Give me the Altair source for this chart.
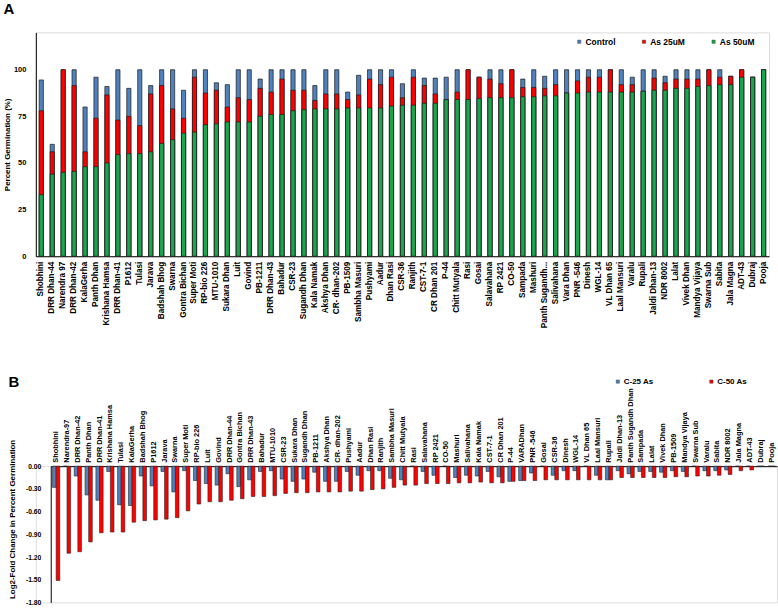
import altair as alt
import pandas as pd

FONT = "Liberation Sans"

# ---------------- Panel A data ----------------
cats_a = ["Shobhini", "DRR Dhan-44", "Narendra 97", "DRR Dhan-42", "KalaGerha", "Panth Dhan",
          "Krishana Hamsa", "DRR Dhan-41", "P1612", "Tulasi", "Jarava", "Badshah Bhog", "Swarna",
          "Gontra Bichan", "Super Moti", "RP-bio 226", "MTU-1010", "Sukara Dhan", "Luit", "Govind",
          "PB-1211", "DRR Dhan-43", "Bahadur", "CSR-23", "Sugandh Dhan", "Kala Namak", "Akshya Dhan",
          "CR- dhan-202", "PB-1509", "Sambha Masuri", "Pushyami", "Aadur", "Dhan Rasi", "CSR-36",
          "Ranjith", "CST-7-1", "CR Dhan 201", "P-44", "Chitt Mutyala", "Rasi", "Gosai", "Salavahana",
          "RP 2421", "CO-50", "Sampada", "Mashuri", "Panth Sugandh...", "Salivahana", "Vara Dhan",
          "PNR -546", "Dinesh", "WGL-14", "VL Dhan 65", "Laal Mansuri", "Varalu", "Rupali",
          "Jaldi Dhan-13", "NDR 8002", "Lalat", "Vivek Dhan", "Mandya Vijaya", "Swarna Sub", "Sabita",
          "Jala Magna", "ADT-43", "Dubraj", "Pooja"]
control = [94.5, 60, 100, 100, 80, 96, 91, 100, 90, 100, 91.5, 100, 100, 89, 100, 100, 93, 92, 100, 100,
           95, 100, 100, 100, 100, 91.5, 100, 100, 88, 97, 100, 100, 100, 92.5, 100, 95.5, 95.5, 96, 100,
           100, 96, 100, 100, 100, 95, 100, 96.5, 100, 100, 100, 100, 100, 100, 100, 96, 100, 100, 96.5,
           100, 100, 100, 100, 100, 96.5, 100, 96, 100]
as25 = [78, 56, 100, 91.5, 56, 74, 86.5, 73, 75, 70, 87, 91.5, 79, 74, 96, 87.5, 89, 80, 85, 84,
        90, 88, 95, 89, 89, 83.5, 87, 87, 84, 86.5, 95, 92, 96, 85, 96, 91.5, 87, 84, 88,
        100, 96, 95, 92.5, 100, 90.5, 90.5, 90, 92, 87.5, 94, 96, 96, 100, 92, 92, 88.5, 95.5, 93,
        95, 95, 95, 100, 96, 96.5, 100, 96, 100]
as50 = [33, 44, 45, 45.5, 48, 48, 50, 54.5, 55, 55, 56, 60.5, 62.5, 66, 66.5, 70.5, 71, 72, 72, 72,
        75, 76, 76, 78, 78.5, 79, 79, 79, 79.5, 79.5, 79.5, 79.5, 80.5, 81, 81, 82, 82, 84, 84,
        84, 84.5, 85, 85, 85, 85.5, 85.5, 86, 86, 87.5, 87.5, 88, 88, 88, 88, 88, 88.5, 89, 89,
        90, 90, 91, 91.5, 92, 92, 96, 96, 100]
series_a = ["Control", "As 25uM", "As 50uM"]
colors_a = ["#4F81BD", "#FF0000", "#1AA64E"]

# ---------------- Panel B data ----------------
cats_b = ["Shobhini", "Narendra-97", "DRR Dhan-42", "Panth Dhan", "DRR Dhan-41", "Krishana Hamsa",
          "Tulasi", "KalaGerha", "Badshah Bhog", "P1612", "Jarava", "Swarna", "Super Moti", "RP-bio 226",
          "Luit", "Govind", "DRR Dhan-44", "Gontra Bichan", "DRR Dhan-43", "Bahadur", "MTU-1010", "CSR-23",
          "Sukara Dhan", "Sugandh Dhan", "PB-1211", "Akshya Dhan", "CR- dhan-202", "Pushyami", "Aadur",
          "Dhan Rasi", "Ranjith", "Sambha Masuri", "Chitt Mutyala", "Rasi", "Salavahana", "RP 2421",
          "CO-50", "Mashuri", "Salivahana", "Kala Namak", "CST-7-1", "CR Dhan 201", "P-44", "VARADhan",
          "PNR -546", "Gosai", "CSR-36", "Dinesh", "WGL-14", "VL Dhan 65", "Laal Mansuri", "Rupali",
          "Jaldi Dhan-13", "Panth Sugandh Dhan", "Sampada", "Lalat", "Vivek Dhan", "PB-1509",
          "Mandya Vijaya", "Swarna Sub", "Varalu", "Sabita", "NDR 8002", "Jala Magna", "ADT-43",
          "Dubraj", "Pooja"]
c25 = [-0.28, 0.00, -0.13, -0.38, -0.45, -0.07, -0.51, -0.52, -0.13, -0.26, -0.07, -0.34, -0.06, -0.19,
       -0.23, -0.25, -0.10, -0.27, -0.18, -0.07, -0.06, -0.17, -0.20, -0.17, -0.08, -0.20, -0.20, -0.07,
       -0.12, -0.06, -0.06, -0.16, -0.18, 0.00, -0.07, -0.12, 0.00, -0.15, -0.12, -0.13, -0.07, -0.14,
       -0.20, -0.19, -0.09, 0.00, -0.12, -0.06, -0.06, 0.00, -0.12, -0.18, -0.06, -0.10, -0.07, -0.07,
       -0.08, -0.06, -0.07, 0.00, -0.06, -0.06, -0.05, 0.00, 0.00, 0.00, 0.00]
c50 = [-1.51, -1.15, -1.13, -1.00, -0.88, -0.87, -0.87, -0.74, -0.72, -0.71, -0.70, -0.68, -0.59, -0.50,
       -0.47, -0.47, -0.45, -0.43, -0.40, -0.40, -0.39, -0.36, -0.35, -0.35, -0.34, -0.34, -0.34, -0.33,
       -0.33, -0.31, -0.30, -0.28, -0.25, -0.25, -0.23, -0.23, -0.23, -0.22, -0.22, -0.21, -0.22, -0.22,
       -0.20, -0.19, -0.19, -0.18, -0.18, -0.18, -0.18, -0.18, -0.18, -0.18, -0.15, -0.15, -0.15, -0.15,
       -0.15, -0.14, -0.14, -0.13, -0.13, -0.12, -0.11, -0.06, -0.05, 0.00, 0.00]
series_b = ["C-25 As", "C-50 As"]
colors_b = ["#4F81BD", "#FF0000"]
ticks_b = [0.0, -0.3, -0.6, -0.9, -1.2, -1.5, -1.8]

rows_a = []
for i, c in enumerate(cats_a):
    for k, (s, v) in enumerate(zip(series_a, (control[i], as25[i], as50[i]))):
        rows_a.append({"cat": c, "series": s, "value": v, "ord": k})
df_a = pd.DataFrame(rows_a)

rows_b = []
for i, c in enumerate(cats_b):
    for s, v in zip(series_b, (c25[i], c50[i])):
        rows_b.append({"cat": c, "series": s, "value": v})
df_b = pd.DataFrame(rows_b)

W_A = 737
W_B = 745
B_SHIFT = 15

chart_a = alt.Chart(df_a).mark_bar(size=4.2, stroke="#1a1a1a", strokeWidth=0.7).encode(
    x=alt.X("cat:N", sort=cats_a, title=None,
            scale=alt.Scale(paddingInner=0, paddingOuter=0),
            axis=alt.Axis(labelAngle=-90, labelAlign="right", labelBaseline="middle",
                          labelFont=FONT, labelFontSize=8.2, labelFontWeight="bold", labelColor="black",
                          ticks=False, tickSize=0, domainColor="black", labelPadding=5, labelLimit=300)),
    y=alt.Y("value:Q", stack=None, scale=alt.Scale(domain=[0, 120], nice=False),
            axis=alt.Axis(values=[0, 25, 50, 75, 100], title="Percent Germination (%)", grid=False,
                          ticks=False, tickSize=0, domainColor="black", labelFont=FONT, labelFontSize=7.5,
                          labelFontWeight="bold", labelColor="black", labelPadding=10,
                          titleFont=FONT, titleFontSize=8, titleFontWeight="bold", titleColor="black",
                          titlePadding=2)),
    color=alt.Color("series:N", scale=alt.Scale(domain=series_a, range=colors_a),
                    legend=alt.Legend(title=None, orient="none", direction="horizontal", columns=3,
                                      legendX=542, legendY=5, padding=0, symbolType="square",
                                      symbolSize=11, symbolStrokeColor="#333", symbolStrokeWidth=0.4,
                                      labelFont=FONT, labelFontSize=8.5, labelFontWeight="bold",
                                      labelColor="black", labelOffset=2, columnPadding=24)),
    order=alt.Order("ord:Q"),
).properties(
    width=W_A, height=225,
    title=alt.TitleParams("A", anchor="start", frame="bounds", fontSize=15, font=FONT,
                          fontWeight="bold", color="black", offset=15),
)

chart_b = alt.Chart(df_b).mark_bar(stroke="#222", strokeWidth=0.6).encode(
    x=alt.X("cat:N", sort=cats_b, title=None,
            scale=alt.Scale(paddingInner=0, paddingOuter=0, range=[B_SHIFT, W_B]),
            axis=alt.Axis(orient="top", labelAngle=-90, labelAlign="left", labelBaseline="middle",
                          labelFont=FONT, labelFontSize=7.4, labelFontWeight="bold", labelColor="black",
                          ticks=False, tickSize=0, domainColor="black", labelPadding=4, labelLimit=300)),
    xOffset=alt.XOffset("series:N", sort=series_b,
                        scale=alt.Scale(paddingInner=0, paddingOuter=0.5)),
    y=alt.Y("value:Q", scale=alt.Scale(domain=[-1.8, 0], nice=False),
            axis=alt.Axis(values=ticks_b, title="Log2-Fold Change in Percent Germination", grid=False,
                          ticks=False, tickSize=0, domainColor="black", offset=-B_SHIFT,
                          labelExpr="replace(format(datum.value, '.2f'), '\u2212', '-')",
                          labelFont=FONT, labelFontSize=6.8, labelFontWeight="bold", labelColor="black",
                          labelPadding=10, titleFont=FONT, titleFontSize=8, titleFontWeight="bold",
                          titleColor="black", titlePadding=9, titleY=53)),
    color=alt.Color("series:N", scale=alt.Scale(domain=series_b, range=colors_b),
                    legend=alt.Legend(title=None, orient="none", direction="horizontal", columns=2,
                                      legendX=581, legendY=-89, padding=0, symbolType="square",
                                      symbolSize=11, symbolStrokeColor="#333", symbolStrokeWidth=0.4,
                                      labelFont=FONT, labelFontSize=8, labelFontWeight="bold",
                                      labelColor="black", labelOffset=2, columnPadding=54)),
).properties(
    width=W_B, height=137,
    title=alt.TitleParams("B", anchor="start", frame="bounds", fontSize=15, font=FONT,
                          fontWeight="bold", color="black", offset=-12),
)

chart = alt.concat(chart_a, chart_b, columns=1, align="none", spacing=45).resolve_scale(
    color="independent", x="independent", y="independent"
).properties(
    padding={"left": 2, "top": 0, "right": 0, "bottom": 0},
    background="white",
).configure_view(stroke=None).configure(font=FONT)

chart.save("out.html", embed_options={"renderer": "svg", "actions": False})
